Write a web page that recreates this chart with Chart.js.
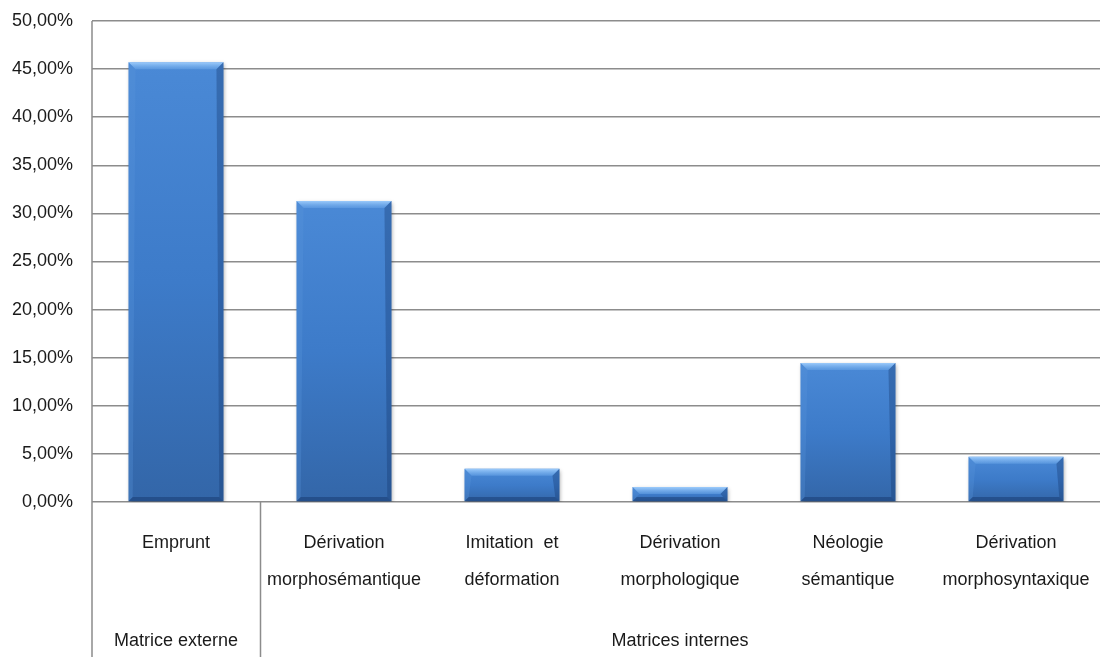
<!DOCTYPE html>
<html>
<head>
<meta charset="utf-8">
<script src="https://cdn.jsdelivr.net/npm/chart.js@4/dist/chart.umd.min.js"></script>
<style>
  html, body { margin: 0; padding: 0; background: #fff; }
  #wrap { width: 1100px; height: 657px; }
</style>
</head>
<body>
<div id="wrap"><canvas id="cnvs_bar" width="1100" height="657"></canvas></div>
<script>
// categories (two-line labels) and their groups
const categories = [
  ['Emprunt'],
  ['Dérivation', 'morphosémantique'],
  ['Imitation  et', 'déformation'],
  ['Dérivation', 'morphologique'],
  ['Néologie', 'sémantique'],
  ['Dérivation', 'morphosyntaxique']
];
const groupLabels = ['Matrice externe', 'Matrices internes'];
const groupSizes = [1, 5];

// share of each category, in percent
const values = [45.7, 31.3, 3.45, 1.55, 14.45, 4.7];

const yMin = 0;
const yMax = 50;
const yStep = 5;

const FONT = '"Liberation Sans", Arial, sans-serif';
const TEXT = '#1a1a1a';
const LINE = '#8c8c8c';

function fmtPct(v) {
  return v.toFixed(2).replace('.', ',') + '%';
}

// vertical gradient per bar, from its own top to its base
function barFill(ctx) {
  const chart = ctx.chart;
  if (!chart.chartArea || !chart.scales.y) return '#3b78c6';
  const y = chart.scales.y;
  const top = y.getPixelForValue(ctx.raw);
  const base = y.getPixelForValue(0);
  const g = chart.ctx.createLinearGradient(0, top, 0, base);
  g.addColorStop(0, '#4a89d6');
  g.addColorStop(0.5, '#3d7bc9');
  g.addColorStop(1, '#3366a8');
  return g;
}

const bevelPlugin = {
  id: 'bevel',
  beforeDatasetsDraw(chart) {
    const c = chart.ctx;
    c.save();
    c.shadowColor = 'rgba(0,0,0,0.35)';
    c.shadowBlur = 4;
    c.shadowOffsetX = 1;
    c.shadowOffsetY = 2;
  },
  afterDatasetsDraw(chart) {
    const c = chart.ctx;
    c.restore();
    const meta = chart.getDatasetMeta(0);
    meta.data.forEach(function(bar) {
      const p = bar.getProps(['x', 'y', 'base', 'width'], true);
      const l = p.x - p.width / 2, r = p.x + p.width / 2;
      const t = p.y, b = p.base;
      const bv = Math.min(7, (b - t) / 2);
      const sv = bv * 0.6;
      c.save();
      // top bevel
      let g = c.createLinearGradient(0, t, 0, t + bv);
      g.addColorStop(0, 'rgba(165,210,255,0.9)');
      g.addColorStop(1, 'rgba(110,170,235,0.45)');
      c.fillStyle = g;
      c.beginPath();
      c.moveTo(l, t); c.lineTo(r, t); c.lineTo(r - bv, t + bv); c.lineTo(l + bv, t + bv);
      c.closePath(); c.fill();
      // left side
      c.fillStyle = 'rgba(90,150,220,0.3)';
      c.beginPath();
      c.moveTo(l, t); c.lineTo(l + bv, t + bv); c.lineTo(l + sv, b - sv); c.lineTo(l, b);
      c.closePath(); c.fill();
      // right side
      c.fillStyle = 'rgba(20,55,110,0.35)';
      c.beginPath();
      c.moveTo(r, t); c.lineTo(r - bv, t + bv); c.lineTo(r - sv, b - sv); c.lineTo(r, b);
      c.closePath(); c.fill();
      // bottom
      c.fillStyle = 'rgba(15,45,95,0.4)';
      c.beginPath();
      c.moveTo(l, b); c.lineTo(r, b); c.lineTo(r - sv, b - sv); c.lineTo(l + sv, b - sv);
      c.closePath(); c.fill();
      c.restore();
    });
  }
};

// axis line, group divider and group labels under the category labels
const groupAxisPlugin = {
  id: 'groupAxis',
  afterDraw(chart) {
    const c = chart.ctx;
    const x = chart.scales.x;
    const area = chart.chartArea;
    const bottom = chart.height;
    c.save();
    c.strokeStyle = LINE;
    c.lineWidth = 1.5;
    c.beginPath();
    c.moveTo(area.left, area.top);
    c.lineTo(area.left, bottom);
    let idx = 0;
    groupSizes.forEach(function(n, gi) {
      idx += n;
      if (gi < groupSizes.length - 1) {
        const dx = Math.round(x.getPixelForValue(idx - 0.5)) + 0.5;
        c.moveTo(dx, area.bottom);
        c.lineTo(dx, bottom);
      }
    });
    c.stroke();

    c.fillStyle = TEXT;
    c.font = '18px ' + FONT;
    c.textAlign = 'center';
    c.textBaseline = 'middle';
    let start = 0;
    groupSizes.forEach(function(n, gi) {
      const cx = (x.getPixelForValue(start) + x.getPixelForValue(start + n - 1)) / 2;
      c.fillText(groupLabels[gi], cx, area.bottom + 139);
      start += n;
    });
    c.restore();
  }
};

new Chart(document.getElementById('cnvs_bar').getContext('2d'), {
  type: 'bar',
  data: {
    labels: categories,
    datasets: [{
      data: values,
      backgroundColor: barFill,
      borderWidth: 0,
      categoryPercentage: 1,
      barPercentage: 0.565
    }]
  },
  options: {
    responsive: false,
    animation: false,
    devicePixelRatio: 1,
    layout: { padding: { top: 21, left: 0, right: 0, bottom: 0 } },
    plugins: {
      legend: { display: false },
      tooltip: { enabled: false }
    },
    scales: {
      x: {
        grid: { display: false, drawTicks: false },
        border: { display: false },
        ticks: {
          autoSkip: false,
          maxRotation: 0,
          padding: 23,
          color: TEXT,
          font: { family: FONT, size: 18, lineHeight: 2.05 }
        },
        afterFit(scale) {
          scale.height = 155;
          scale.paddingLeft = 0;
          scale.paddingRight = 0;
        }
      },
      y: {
        min: yMin,
        max: yMax,
        grid: { color: LINE, lineWidth: 1.5, drawTicks: false },
        border: { display: false },
        ticks: {
          stepSize: yStep,
          padding: 19,
          color: TEXT,
          font: { family: FONT, size: 18 },
          callback: function(v) { return fmtPct(v); }
        },
        afterFit(scale) {
          scale.width = 92;
          scale.paddingTop = 0;
          scale.paddingBottom = 0;
        }
      }
    }
  },
  plugins: [bevelPlugin, groupAxisPlugin]
});
</script>
</body>
</html>
